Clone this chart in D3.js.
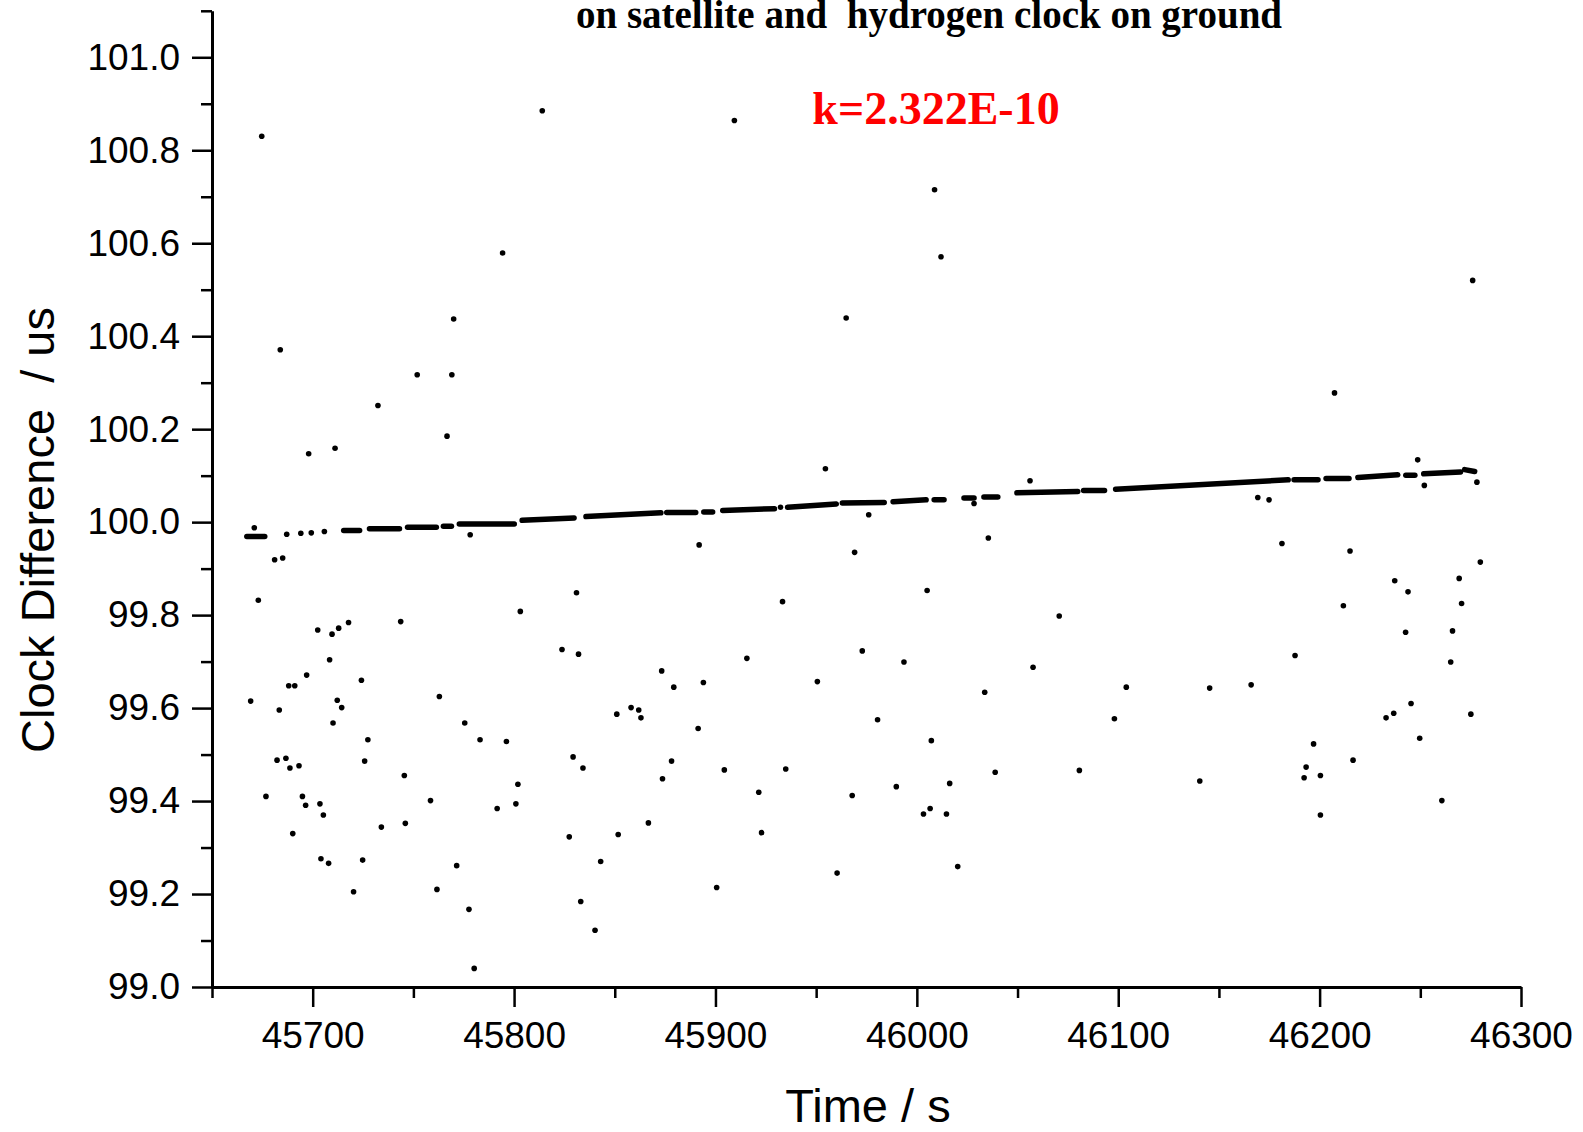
<!DOCTYPE html>
<html>
<head>
<meta charset="utf-8">
<script src="https://cdn.jsdelivr.net/npm/d3@7/dist/d3.min.js"></script>
<style>
  body { margin: 0; background: #fff; }
  svg { display: block; }
  .axis text { font-family: "Liberation Sans", Arial, sans-serif; font-size: 37px; fill: #000; }
  .axis path, .axis line { stroke: #000; }
</style>
</head>
<body>
<svg id="chart" width="1583" height="1132"></svg>
<script>
(function(){
  // scattered readings (time in s, clock difference in us)
  var scatterTime = [
    45674.7, 45814.0, 45683.9, 45794.3, 45770.0, 45751.9, 45769.1, 45732.4, 45766.7, 45698.0, 45711.1, 45671.0,
    45909.4, 46008.8, 46012.0, 45964.9, 45954.6, 46056.2, 45976.1, 46028.4,
    46276.0, 46207.4, 46248.7, 46252.0, 46278.1, 46169.3, 46174.9,
    45778.2, 45681.1, 45685.1, 45673.0, 45831.0, 45803.1, 45702.5, 45709.6, 45712.9, 45717.8, 45743.7,
    45708.4, 45697.0, 45724.2, 45688.1, 45691.1, 45669.2, 45683.4, 45712.2, 45714.4, 45710.1, 45762.9,
    45775.5, 45783.1, 45796.2, 45823.8, 45832.0, 45851.0, 45858.1, 45861.9, 45863.0, 45727.4, 45725.8,
    45682.3, 45686.7, 45688.7, 45693.2, 45745.5, 45829.3, 45834.2, 45676.8, 45694.9, 45696.5, 45703.6,
    45705.3, 45758.5, 45800.9, 45801.9, 45791.6, 45690.1, 45734.1, 45746.0, 45827.4, 45851.7, 45866.7,
    45704.1, 45707.9, 45724.8, 45771.5, 45843.0, 45720.3, 45761.7, 45777.6, 45833.1, 45840.2, 45780.2,
    45687.1, 45694.1, 45699.3, 45705.8,
    45891.9, 45969.1, 46035.5, 46005.1, 45933.3, 46070.7, 45972.9, 45993.6, 45915.6, 45873.3, 45879.3,
    45894.0, 45950.6, 46033.7, 46057.7, 45980.5, 45891.4, 46007.2, 45878.2, 45873.7, 45904.4, 45934.9,
    46038.9, 46080.7, 45921.5, 45967.9, 45989.8, 46016.3, 46003.3, 46006.6, 46014.7, 45922.9, 45960.4,
    46020.3, 45900.6,
    46181.3, 46215.1, 46279.8, 46237.3, 46243.9, 46269.3, 46270.5, 46211.8, 46242.7, 46266.0, 46265.1,
    46187.8, 46104.0, 46145.4, 46166.0, 46245.4, 46233.0, 46236.8, 46275.1, 46249.7, 46098.1, 46216.6,
    46197.0, 46193.3, 46192.3, 46200.4, 46140.5, 46200.4, 46260.7
  ];
  var scatterValue = [
    100.830, 100.885, 100.371, 100.579, 100.437, 100.317, 100.317, 100.251, 100.185, 100.147, 100.159, 99.988,
    100.864, 100.715, 100.571, 100.439, 100.115, 100.089, 100.016, 100.040,
    100.520, 100.278, 100.134, 100.079, 100.086, 100.053, 100.048,
    99.973, 99.919, 99.923, 99.832, 99.848, 99.808, 99.768, 99.759, 99.772, 99.784, 99.786,
    99.704, 99.671, 99.660, 99.648, 99.648, 99.615, 99.596, 99.617, 99.601, 99.568, 99.625,
    99.568, 99.532, 99.528, 99.726, 99.716, 99.587, 99.601, 99.596, 99.579, 99.532, 99.486,
    99.488, 99.492, 99.471, 99.476, 99.455, 99.495, 99.471, 99.410, 99.410, 99.391, 99.394,
    99.370, 99.401, 99.394, 99.436, 99.384, 99.330, 99.344, 99.352, 99.323, 99.328, 99.353,
    99.276, 99.266, 99.273, 99.261, 99.270, 99.205, 99.210, 99.167, 99.184, 99.122, 99.040,
    99.974, 99.976, 99.977, 99.980,
    99.951, 99.935, 99.966, 99.853, 99.829, 99.798, 99.723, 99.699, 99.707, 99.680, 99.645,
    99.655, 99.657, 99.634, 99.688, 99.575, 99.556, 99.530, 99.486, 99.448, 99.467, 99.469,
    99.462, 99.466, 99.419, 99.412, 99.431, 99.438, 99.372, 99.384, 99.372, 99.332, 99.245,
    99.259, 99.214,
    99.954, 99.938, 99.914, 99.874, 99.850, 99.879, 99.825, 99.820, 99.763, 99.766, 99.699,
    99.713, 99.645, 99.643, 99.650, 99.610, 99.579, 99.589, 99.587, 99.535, 99.577, 99.488,
    99.523, 99.473, 99.450, 99.455, 99.443, 99.370, 99.401
  ];

  // runs of dense readings along the drift line (start/end time and value)
  var runStartTime = [45667.3, 45715.4, 45728.2, 45747.1, 45764.9, 45772.8, 45804.0, 45835.7, 45875.8, 45894.2,
    45903.6, 45932.3, 45935.8, 45963.0, 45988.2, 46008.6, 46023.4, 46033.3, 46049.7, 46082.8,
    46098.7, 46187.3, 46203.2, 46219.0, 46242.8, 46251.7, 46272.0];
  var runEndTime = [45676.2, 45723.3, 45743.1, 45761.4, 45768.9, 45800.1, 45829.8, 45872.9, 45890.2, 45898.6,
    45929.3, 45932.3, 45960.0, 45983.8, 46004.6, 46013.5, 46028.4, 46040.2, 46079.9, 46093.2,
    46184.4, 46199.2, 46214.6, 46238.8, 46247.3, 46270.0, 46277.0];
  var runStartValue = [99.969, 99.982, 99.986, 99.989, 99.991, 99.996, 100.004, 100.012, 100.021, 100.022,
    100.025, 100.032, 100.032, 100.041, 100.044, 100.048, 100.052, 100.054, 100.063, 100.068,
    100.071, 100.091, 100.094, 100.096, 100.101, 100.104, 100.113];
  var runEndValue = [99.969, 99.982, 99.986, 99.989, 99.991, 99.996, 100.009, 100.020, 100.021, 100.022,
    100.029, 100.032, 100.039, 100.042, 100.048, 100.048, 100.052, 100.054, 100.066, 100.068,
    100.091, 100.091, 100.094, 100.102, 100.101, 100.108, 100.109];

  var xMajor = [45700, 45800, 45900, 46000, 46100, 46200, 46300];
  var xMinor = [45650, 45750, 45850, 45950, 46050, 46150, 46250];
  var yMajor = [99.0, 99.2, 99.4, 99.6, 99.8, 100.0, 100.2, 100.4, 100.6, 100.8, 101.0];
  var yMinor = [99.1, 99.3, 99.5, 99.7, 99.9, 100.1, 100.3, 100.5, 100.7, 100.9, 101.1];

  var svg = d3.select('#chart');

  var x = d3.scaleLinear().domain([45650, 46300]).range([212, 1521]);
  var y = d3.scaleLinear().domain([99.0, 101.1]).range([987, 10.8]);

  // minor ticks first
  svg.append('g')
    .attr('class', 'axis')
    .attr('transform', 'translate(0,987)')
    .call(d3.axisBottom(x).tickValues(xMinor).tickSize(11).tickSizeOuter(0).tickFormat(''))
    .call(function(g){ g.select('.domain').remove(); })
    .selectAll('line').attr('stroke-width', 2.5);

  svg.append('g')
    .attr('class', 'axis')
    .attr('transform', 'translate(212,0)')
    .call(d3.axisLeft(y).tickValues(yMinor).tickSize(11).tickSizeOuter(0).tickFormat(''))
    .call(function(g){ g.select('.domain').remove(); })
    .selectAll('line').attr('stroke-width', 2.5);

  var xAxis = svg.append('g')
    .attr('class', 'axis')
    .attr('transform', 'translate(0,987)')
    .call(d3.axisBottom(x).tickValues(xMajor).tickSize(20).tickSizeOuter(0).tickPadding(15).tickFormat(d3.format('d')));
  xAxis.select('.domain').attr('stroke-width', 3);
  xAxis.selectAll('line').attr('stroke-width', 2.5);

  var yAxis = svg.append('g')
    .attr('class', 'axis')
    .attr('transform', 'translate(212,0)')
    .call(d3.axisLeft(y).tickValues(yMajor).tickSize(20).tickSizeOuter(0).tickPadding(12).tickFormat(d3.format('.1f')));
  yAxis.select('.domain').attr('stroke-width', 3);
  yAxis.selectAll('line').attr('stroke-width', 2.5);

  // dense runs
  svg.append('g')
    .selectAll('line')
    .data(runStartTime)
    .enter()
    .append('line')
    .attr('x1', function(d) {return x(d);})
    .attr('x2', function(d, i) {return x(runEndTime[i]);})
    .attr('y1', function(d, i) {return y(runStartValue[i]);})
    .attr('y2', function(d, i) {return y(runEndValue[i]);})
    .attr('stroke', '#000')
    .attr('stroke-width', 5.5)
    .attr('stroke-linecap', 'round');

  // scattered points
  svg.append('g')
    .selectAll('circle')
    .data(scatterTime)
    .enter()
    .append('circle')
    .attr('r', 2.8)
    .attr('cx', function(d) {return x(d);})
    .attr('cy', function(d, i) {return y(scatterValue[i]);})
    .attr('fill', '#000');

  // titles
  svg.append('text')
    .attr('x', 929).attr('y', 28)
    .attr('text-anchor', 'middle')
    .style('font-family', '"Liberation Serif", "Times New Roman", serif')
    .style('font-weight', 'bold')
    .style('font-size', '39px')
    .text('on satellite and\u00a0 hydrogen clock on ground');

  svg.append('text')
    .attr('x', 936).attr('y', 124)
    .attr('text-anchor', 'middle')
    .style('font-family', '"Liberation Serif", "Times New Roman", serif')
    .style('font-weight', 'bold')
    .style('font-size', '46px')
    .style('fill', '#ff0000')
    .text('k=2.322E-10');

  svg.append('text')
    .attr('x', 868).attr('y', 1122)
    .attr('text-anchor', 'middle')
    .style('font-family', '"Liberation Sans", Arial, sans-serif')
    .style('font-size', '47px')
    .text('Time / s');

  svg.append('text')
    .attr('transform', 'translate(54,530) rotate(-90)')
    .attr('text-anchor', 'middle')
    .style('font-family', '"Liberation Sans", Arial, sans-serif')
    .style('font-size', '47px')
    .text('Clock Difference\u00a0 / us');
})();
</script>
</body>
</html>
